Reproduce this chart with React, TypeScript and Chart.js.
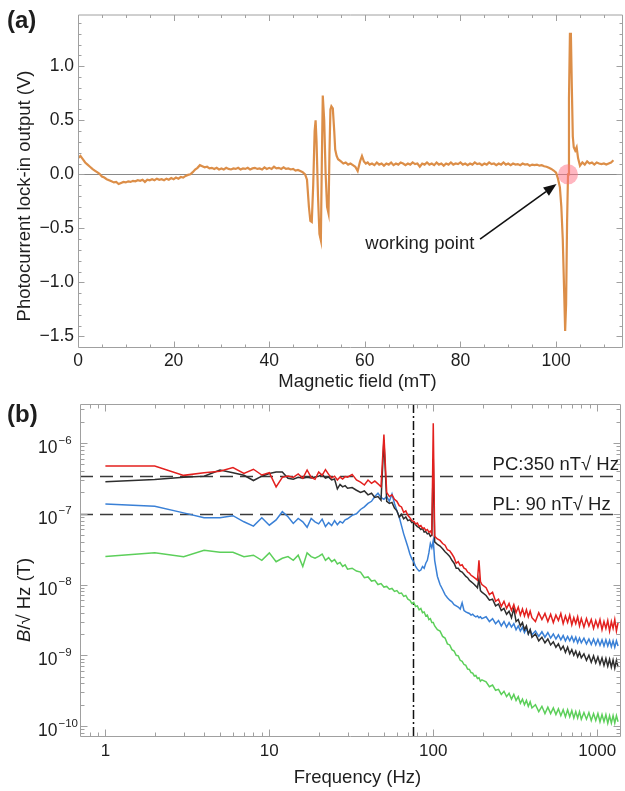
import React, { useEffect, useRef } from 'react';
import { Chart, registerables } from 'chart.js';

Chart.register(...registerables);

const FONT = '"Liberation Sans", Arial, Helvetica, sans-serif';
const TEXT = '#1e1e1e';
const FRAME = '#a0a0a0';
const TICK_FONT = 17.5;
const TITLE_FONT = 18.5;

// ---------------- panel (a): lock-in signal vs magnetic field ----------------
const fieldMT = [
  0, 0.5, 1, 1.5, 2, 2.5, 3, 3.5, 4, 4.5,
  5, 5.5, 6, 6.5, 7, 7.5, 8, 8.5, 9, 9.5,
  10, 10.5, 11, 11.5, 12, 12.5, 13, 13.5, 14, 14.5,
  15, 15.5, 16, 16.5, 17, 17.5, 18, 18.5, 19, 19.5,
  20, 20.5, 21, 21.5, 22, 22.5, 23, 23.5, 24, 24.5,
  25, 25.5, 26, 26.5, 27, 27.5, 28, 28.5, 29, 29.5,
  30, 30.5, 31, 31.5, 32, 32.5, 33, 33.5, 34, 34.5,
  35, 35.5, 36, 36.5, 37, 37.5, 38, 38.5, 39, 39.5,
  40, 40.5, 41, 41.5, 42, 42.5, 43, 43.5, 44, 44.5,
  45, 45.5, 46, 46.5, 47, 47.5,
  47.9, 48.3, 48.6, 48.9, 49.2, 49.5, 49.7, 49.9, 50.2, 50.5,
  50.8, 51.0, 51.2, 51.5, 51.8, 52.1, 52.4, 52.6, 52.8, 53.0,
  53.3, 53.6, 53.8, 54.1, 54.4,
  55, 55.5, 56, 56.5, 57, 57.5, 58, 58.5, 59, 59.4, 59.8,
  60.2, 60.6, 61, 61.5, 62, 62.5, 63, 63.5, 64, 64.5,
  65, 65.5, 66, 66.5, 67, 67.5, 68, 68.5, 69, 69.5,
  70, 70.5, 71, 71.5, 72, 72.5, 73, 73.5, 74, 74.5,
  75, 75.5, 76, 76.5, 77, 77.5, 78, 78.5, 79, 79.5,
  80, 80.5, 81, 81.5, 82, 82.5, 83, 83.5, 84, 84.5,
  85, 85.5, 86, 86.5, 87, 87.5, 88, 88.5, 89, 89.5,
  90, 90.5, 91, 91.5, 92, 92.5, 93, 93.5, 94, 94.5,
  95, 95.5, 96, 96.5, 97, 97.5, 98, 98.5, 99, 99.5,
  100, 100.4, 100.8, 101.1, 101.4, 101.7, 101.9, 102.1, 102.3, 102.5,
  102.7, 102.9, 103.1, 103.3, 103.5, 103.7, 104.0, 104.3, 104.6, 105.0,
  105.5, 106, 106.5, 107, 107.5, 108, 108.5, 109, 109.5, 110,
  110.5, 111, 111.5, 112,
];
const lockinV = [
  0.15, 0.17, 0.14, 0.11, 0.09, 0.07, 0.05, 0.035, 0.02, 0.005,
  -0.02, -0.03, -0.045, -0.055, -0.065, -0.075, -0.07, -0.09, -0.08, -0.07,
  -0.075, -0.065, -0.07, -0.06, -0.065, -0.055, -0.06, -0.05, -0.07, -0.05,
  -0.055, -0.045, -0.055, -0.04, -0.05, -0.045, -0.055, -0.04, -0.05, -0.035,
  -0.045, -0.03, -0.04, -0.025, -0.03, -0.015, -0.005, 0.0, 0.02, 0.045,
  0.06, 0.085, 0.075, 0.065, 0.07, 0.055, 0.06, 0.05, 0.06, 0.045,
  0.055, 0.045, 0.06, 0.05, 0.045, 0.055, 0.05, 0.06, 0.045, 0.055,
  0.05, 0.06, 0.045, 0.055, 0.06, 0.05, 0.055, 0.045, 0.065, 0.05,
  0.06, 0.05, 0.07, 0.055, 0.06, 0.05, 0.065, 0.05, 0.055, 0.045,
  0.05, 0.035, 0.04, 0.03, 0.02, 0.0,
  -0.05, -0.3, -0.43, -0.44, -0.1, 0.4, 0.5, 0.3, -0.2, -0.55,
  -0.61, 0.1, 0.73, 0.5, 0.0, -0.3, -0.36, 0.2, 0.6, 0.63,
  0.61, 0.4, 0.23, 0.17, 0.14,
  0.12, 0.1, 0.11, 0.09, 0.1, 0.085, 0.07, 0.03, 0.12, 0.17, 0.12,
  0.1, 0.11, 0.09, 0.1, 0.085, 0.11, 0.09, 0.1, 0.08, 0.1,
  0.09, 0.11, 0.085, 0.1, 0.09, 0.11, 0.1, 0.085, 0.1, 0.09,
  0.11, 0.095, 0.1, 0.07, 0.1, 0.09, 0.11, 0.09, 0.1, 0.085,
  0.11, 0.09, 0.1, 0.08, 0.1, 0.09, 0.11, 0.09, 0.1, 0.095,
  0.11, 0.09, 0.1, 0.085, 0.1, 0.09, 0.11, 0.095, 0.1, 0.085,
  0.1, 0.09, 0.11, 0.095, 0.1, 0.085, 0.1, 0.09, 0.11, 0.09,
  0.1, 0.085, 0.1, 0.09, 0.095, 0.085, 0.1, 0.09, 0.095, 0.08,
  0.09, 0.085, 0.09, 0.08, 0.085, 0.075, 0.07, 0.06, 0.05, 0.035,
  0.015, -0.04, -0.12, -0.3, -0.6, -1.1, -1.45, -1.2, -0.45, 0.0,
  0.7, 1.3, 1.3, 0.8, 0.35, 0.25, 0.22, 0.25, 0.15, 0.08,
  0.11, 0.09, 0.12, 0.1, 0.11, 0.09, 0.11, 0.1, 0.095, 0.1,
  0.09, 0.1, 0.11, 0.13,
];
const A_X_RANGE = [0, 114];
const A_Y_RANGE = [-1.607, 1.479];
const A_X_MAJOR = [0, 20, 40, 60, 80, 100];
const A_X_MINOR = [5, 10, 15, 25, 30, 35, 45, 50, 55, 65, 70, 75, 85, 90, 95, 105, 110];
const A_Y_MAJOR = [-1.5, -1, -0.5, 0, 0.5, 1];
const A_Y_MINOR = [-1.4, -1.3, -1.2, -1.1, -0.9, -0.8, -0.7, -0.6, -0.4, -0.3, -0.2, -0.1,
  0.1, 0.2, 0.3, 0.4, 0.6, 0.7, 0.8, 0.9, 1.1, 1.2, 1.3, 1.4];
const WORKING_POINT = { mT: 102.5, V: 0 };
const ARROW_FROM = { mT: 84.1, V: -0.6 };
const ARROW_TO = { mT: 100.1, V: -0.09 };
const LABEL_AT = { mT: 71.5, V: -0.648 };

// ---------------- panel (b): noise spectra ----------------
const freqHz = [
  1, 2, 3, 4, 5, 6, 7, 8, 9, 10, 11, 12, 13, 14, 15, 16, 17, 18, 19, 20,
  21, 22, 23, 24, 25, 26, 27, 28, 29, 30,
  32, 34, 36, 38, 40, 42, 44, 46, 48, 50, 52, 54, 56, 58, 60,
  62, 64, 66, 68, 70, 72, 74, 76, 78, 80, 82, 84, 86, 88, 90, 92, 94, 96, 98, 100,
  102, 106, 110, 114, 118, 122, 126, 130, 134, 138, 142, 146, 150, 154, 158,
  162, 166, 170, 174, 178, 182, 186, 190, 194, 198,
  210, 220, 230, 240, 250, 260, 270, 280, 290, 300, 310, 320, 330, 340, 350, 360, 370, 380, 390, 400,
  420, 440, 460, 480, 500, 520, 540, 560, 580, 600, 620, 640, 660, 680, 700, 720, 740, 760, 780, 800,
  830, 860, 890, 920, 950, 980, 1010, 1040, 1070, 1100, 1130, 1160, 1190, 1220, 1250, 1280, 1310, 1340,
];
// amplitude spectral densities in nT/sqrt(Hz)
const redNoise_nT = [
  473, 473, 349, 380, 398, 450, 372, 426, 353, 380, 240, 327, 342, 327, 365, 317, 416, 327, 307, 390,
  350, 420, 360, 320, 340, 300, 330, 310, 335, 330,
  360, 300, 280, 255, 300, 270, 290, 265, 240, 1320, 200, 175, 185, 160, 150,
  130, 125, 105, 110, 95, 88, 80, 78, 72, 74, 66, 68, 62, 63, 58, 60, 55, 57, 52, 1900,
  48, 44, 42, 38, 36, 31, 30, 27, 24, 20, 21, 18.5, 19, 17, 16.5,
  15, 14.5, 13.5, 13, 12.5, 12, 11.5, 22, 11, 10,
  9.0, 7.2, 7.8, 5.8, 6.2, 4.9, 5.8, 4.6, 5.4, 4.3, 5.2, 4.0, 4.8, 3.7, 4.5, 3.6, 4.4, 3.5, 4.2, 3.4,
  3.0, 4.0, 3.2, 3.9, 3.0, 3.8, 2.9, 3.7, 3.1, 3.9, 2.8, 3.6, 2.9, 3.7, 2.7, 3.4, 2.8, 3.5, 2.6, 3.3,
  2.5, 3.3, 2.6, 3.2, 2.4, 3.1, 2.5, 3.2, 2.3, 3.0, 2.4, 3.1, 2.2, 3.0, 2.4, 3.2, 2.2, 2.9,
];
const blackNoise_nT = [
  284, 305, 327, 340, 416, 380, 350, 295, 340, 370, 390, 390, 317, 307, 327, 317, 327, 320, 330, 340,
  360, 320, 330, 300, 310, 225, 260, 240, 250, 230,
  235, 215, 200, 210, 185, 195, 170, 175, 155, 1100, 150, 140, 145, 120, 110,
  90, 98, 85, 90, 80, 82, 75, 77, 70, 66, 64, 60, 62, 55, 56, 52, 53, 48, 50, 600,
  40, 37, 35, 32, 29, 27, 25, 22, 20, 17, 17, 15.5, 15, 14, 13,
  12.5, 11.5, 11, 10.5, 10, 9.5, 9, 12, 8.2, 7.8,
  7.0, 6.0, 6.2, 5.0, 5.3, 4.3, 4.6, 3.8, 4.2, 3.4, 4.6, 3.0, 3.2, 2.6, 2.9, 2.3, 2.6, 2.0, 2.3, 1.8,
  2.0, 1.6, 1.8, 1.5, 1.7, 1.4, 1.55, 1.3, 1.45, 1.2, 1.35, 1.1, 1.3, 1.05, 1.2, 1.0, 1.15, 0.95, 1.1, 0.92,
  1.05, 0.85, 1.0, 0.8, 0.98, 0.78, 0.95, 0.75, 0.92, 0.72, 0.9, 0.7, 0.88, 0.68, 0.86, 0.66, 0.85, 0.68,
];
const blueNoise_nT = [
  137, 128, 103, 88, 88, 94, 77, 67, 88, 69, 82, 107, 91, 73, 86, 77, 64.5, 86, 77, 72,
  84, 66, 75, 68, 80, 70, 78, 74, 82, 85,
  95, 100, 115, 125, 140, 150, 175, 195, 170, 160, 175, 150, 190, 140, 110,
  90, 68, 52, 42, 34, 27, 23, 21, 18, 16.5, 15.5, 16, 18, 17, 20, 22, 28, 38, 33, 42,
  22, 13, 10, 8.5, 7.2, 6.5, 6.0, 5.7, 5.2, 5.0, 4.8, 4.5, 5.5, 4.3, 4.1,
  4.0, 3.9, 3.7, 3.8, 3.6, 3.5, 3.6, 3.4, 3.5, 3.3,
  3.5, 3.0, 3.3, 2.8, 3.1, 2.6, 3.0, 2.5, 2.9, 2.5, 2.8, 2.3, 2.6, 2.2, 2.5, 2.1, 2.4, 2.0, 2.3, 1.95,
  2.2, 1.85, 2.15, 1.8, 2.1, 1.75, 2.0, 1.7, 1.95, 1.65, 1.9, 1.6, 1.85, 1.6, 1.85, 1.55, 1.8, 1.5, 1.75, 1.5,
  1.75, 1.45, 1.7, 1.42, 1.7, 1.4, 1.68, 1.38, 1.65, 1.35, 1.65, 1.35, 1.62, 1.32, 1.6, 1.3, 1.6, 1.35,
];
const greenNoise_nT = [
  24.8, 28.2, 24.8, 30.6, 28.5, 28.5, 24.8, 26, 22, 28, 21, 23.5, 24.8, 22, 26, 18, 28, 24.8, 23.5, 25,
  27, 22, 24, 21, 22.5, 19.5, 20.5, 18, 19, 16.5,
  17, 15.5, 15, 12.5, 12.8, 11.2, 11.5, 10, 10.3, 9.2, 9.4, 8.6, 8.8, 8.0, 8.2,
  7.5, 7.6, 6.8, 7.0, 6.2, 6.0, 5.4, 5.6, 4.9, 5.0, 4.4, 4.6, 4.0, 4.1, 3.6, 3.7, 3.2, 3.3, 2.9, 2.9,
  2.6, 2.3, 2.2, 1.85, 1.75, 1.45, 1.4, 1.2, 1.15, 1.0, 0.98, 0.85, 0.82, 0.74, 0.72,
  0.64, 0.63, 0.57, 0.56, 0.51, 0.52, 0.47, 0.48, 0.43, 0.45,
  0.42, 0.36, 0.38, 0.32, 0.33, 0.28, 0.31, 0.26, 0.29, 0.24, 0.28, 0.23, 0.26, 0.21, 0.24, 0.2, 0.23, 0.19, 0.22, 0.18,
  0.2, 0.16, 0.19, 0.15, 0.185, 0.15, 0.18, 0.145, 0.175, 0.14, 0.17, 0.135, 0.17, 0.135, 0.165, 0.13, 0.16, 0.13, 0.16, 0.125,
  0.155, 0.125, 0.155, 0.12, 0.15, 0.12, 0.15, 0.115, 0.145, 0.115, 0.145, 0.11, 0.14, 0.11, 0.14, 0.11, 0.14, 0.115,
];
const B_X_RANGE = [0.715, 1397];
const B_Y_RANGE = [7.0e-11, 3.56e-6];
const B_X_DECADES = [-1, 0, 1, 2, 3];
const B_Y_DECADES = [-11, -10, -9, -8, -7, -6];
const PC_LEVEL_T = 3.4e-7;
const PL_LEVEL_T = 1.0e-7;
const PC_LABEL = 'PC:350 nT\u221A Hz';
const PL_LABEL = 'PL: 90 nT\u221A Hz';
const LEVEL_LABEL_HZ = 230;
const CUTOFF_HZ = 75;

const SERIES_B = [
  { name: 'red', values: redNoise_nT, color: '#e3201e' },
  { name: 'black', values: blackNoise_nT, color: '#2e2e2e' },
  { name: 'blue', values: blueNoise_nT, color: '#3a80d6' },
  { name: 'green', values: greenNoise_nT, color: '#5ccf5a' },
];

// ---------------- helpers ----------------
function inwardTicks(chart: any, xMaj: number[], xMin: number[], yMaj: number[], yMin: number[], lMaj: number, lMin: number) {
  const { ctx, chartArea: ca, scales } = chart;
  const xs = scales.x, ys = scales.y;
  const L = ca.left + 0.5, R = ca.right - 0.5, T = ca.top + 0.5, B = ca.bottom - 0.5;
  ctx.save();
  ctx.strokeStyle = FRAME;
  ctx.lineWidth = 1;
  ctx.beginPath();
  ctx.rect(L, T, R - L, B - T);
  const doX = (vals: number[], len: number) => {
    for (const v of vals) {
      const p = xs.getPixelForValue(v);
      if (p < ca.left + 1 || p > ca.right - 1) continue;
      const px = Math.round(p) + 0.5;
      ctx.moveTo(px, B); ctx.lineTo(px, B - len);
      ctx.moveTo(px, T); ctx.lineTo(px, T + len);
    }
  };
  const doY = (vals: number[], len: number) => {
    for (const v of vals) {
      const p = ys.getPixelForValue(v);
      if (p < ca.top + 1 || p > ca.bottom - 1) continue;
      const py = Math.round(p) + 0.5;
      ctx.moveTo(L, py); ctx.lineTo(L + len, py);
      ctx.moveTo(R, py); ctx.lineTo(R - len, py);
    }
  };
  doX(xMaj, lMaj); doX(xMin, lMin); doY(yMaj, lMaj); doY(yMin, lMin);
  ctx.stroke();
  ctx.restore();
}

function logMinor(decades: number[]) {
  const out: number[] = [];
  for (const d of decades) for (let m = 2; m <= 9; m++) out.push(m * Math.pow(10, d));
  return out;
}
function logMajor(decades: number[]) {
  return decades.map((d) => Math.pow(10, d));
}

const pluginA = {
  id: 'decorA',
  beforeDatasetsDraw(chart: any) {
    const { ctx, chartArea: ca, scales } = chart;
    const y0 = Math.round(scales.y.getPixelForValue(0)) + 0.5;
    ctx.save();
    ctx.strokeStyle = '#8a8a8a';
    ctx.lineWidth = 1;
    ctx.beginPath();
    ctx.moveTo(ca.left, y0);
    ctx.lineTo(ca.right, y0);
    ctx.stroke();
    ctx.restore();
  },
  afterDatasetsDraw(chart: any) {
    const { ctx, scales } = chart;
    const xs = scales.x, ys = scales.y;
    ctx.save();
    ctx.fillStyle = 'rgba(255,110,130,0.5)';
    ctx.beginPath();
    ctx.arc(xs.getPixelForValue(WORKING_POINT.mT), ys.getPixelForValue(WORKING_POINT.V), 10, 0, Math.PI * 2);
    ctx.fill();
    const tx = xs.getPixelForValue(ARROW_FROM.mT), ty = ys.getPixelForValue(ARROW_FROM.V);
    const hx = xs.getPixelForValue(ARROW_TO.mT), hy = ys.getPixelForValue(ARROW_TO.V);
    const ang = Math.atan2(hy - ty, hx - tx);
    const hl = 13, hw = 5;
    const bx = hx - hl * Math.cos(ang), by = hy - hl * Math.sin(ang);
    ctx.strokeStyle = '#111';
    ctx.fillStyle = '#111';
    ctx.lineWidth = 1.6;
    ctx.beginPath();
    ctx.moveTo(tx, ty);
    ctx.lineTo(bx, by);
    ctx.stroke();
    ctx.beginPath();
    ctx.moveTo(hx, hy);
    ctx.lineTo(bx + hw * Math.sin(ang), by - hw * Math.cos(ang));
    ctx.lineTo(bx - hw * Math.sin(ang), by + hw * Math.cos(ang));
    ctx.closePath();
    ctx.fill();
    ctx.fillStyle = TEXT;
    ctx.font = `${TITLE_FONT}px ${FONT}`;
    ctx.textAlign = 'center';
    ctx.textBaseline = 'middle';
    ctx.fillText('working point', xs.getPixelForValue(LABEL_AT.mT), ys.getPixelForValue(LABEL_AT.V));
    ctx.restore();
    inwardTicks(chart, A_X_MAJOR, A_X_MINOR, A_Y_MAJOR, A_Y_MINOR, 6, 3);
  },
  afterDraw(chart: any) {
    const { ctx, chartArea: ca } = chart;
    ctx.save();
    ctx.fillStyle = TEXT;
    ctx.font = `bold 24px ${FONT}`;
    ctx.textAlign = 'left';
    ctx.textBaseline = 'middle';
    ctx.fillText('(a)', 7, 21);
    ctx.font = `${TITLE_FONT}px ${FONT}`;
    ctx.textAlign = 'center';
    ctx.fillText('Magnetic field (mT)', (ca.left + ca.right) / 2 + 7, 382);
    ctx.translate(25, 196);
    ctx.rotate(-Math.PI / 2);
    ctx.fillText('Photocurrent lock-in output (V)', 0, 0);
    ctx.restore();
  },
};

const pluginB = {
  id: 'decorB',
  beforeDatasetsDraw(chart: any) {
    const { ctx, chartArea: ca, scales } = chart;
    const xs = scales.x, ys = scales.y;
    ctx.save();
    ctx.strokeStyle = '#3a3a3a';
    ctx.lineWidth = 1.5;
    ctx.setLineDash([13, 7]);
    for (const lvl of [PC_LEVEL_T, PL_LEVEL_T]) {
      const py = Math.round(ys.getPixelForValue(lvl)) + 0.5;
      ctx.beginPath();
      ctx.moveTo(ca.left, py);
      ctx.lineTo(ca.right, py);
      ctx.stroke();
    }
    ctx.strokeStyle = '#111';
    ctx.setLineDash([9, 3, 2, 3]);
    const px = Math.round(xs.getPixelForValue(CUTOFF_HZ)) + 0.5;
    ctx.beginPath();
    ctx.moveTo(px, ca.top);
    ctx.lineTo(px, ca.bottom);
    ctx.stroke();
    ctx.restore();
  },
  afterDatasetsDraw(chart: any) {
    const { ctx, scales } = chart;
    const xs = scales.x, ys = scales.y;
    ctx.save();
    ctx.fillStyle = TEXT;
    ctx.font = `${TITLE_FONT}px ${FONT}`;
    ctx.textAlign = 'left';
    ctx.textBaseline = 'middle';
    const lx = xs.getPixelForValue(LEVEL_LABEL_HZ);
    ctx.fillText(PC_LABEL, lx, ys.getPixelForValue(PC_LEVEL_T) - 11);
    ctx.fillText(PL_LABEL, lx, ys.getPixelForValue(PL_LEVEL_T) - 9);
    ctx.restore();
    inwardTicks(chart, logMajor(B_X_DECADES), logMinor(B_X_DECADES), logMajor(B_Y_DECADES), logMinor(B_Y_DECADES), 7, 4);
  },
  afterDraw(chart: any) {
    const { ctx, chartArea: ca, scales } = chart;
    const ys = scales.y;
    ctx.save();
    ctx.fillStyle = TEXT;
    ctx.textAlign = 'left';
    ctx.textBaseline = 'alphabetic';
    for (const d of B_Y_DECADES) {
      const v = Math.pow(10, d);
      const p = ys.getPixelForValue(v);
      if (p < ca.top - 1 || p > ca.bottom + 1) continue;
      ctx.font = `${TICK_FONT}px ${FONT}`;
      const x0 = 38;
      ctx.fillText('10', x0, p + 10);
      const w = ctx.measureText('10').width;
      ctx.font = `11.5px ${FONT}`;
      ctx.fillText('\u2212' + String(-d), x0 + w + 1, p + 0.5);
    }
    ctx.font = `bold 24px ${FONT}`;
    ctx.textBaseline = 'middle';
    ctx.fillText('(b)', 7, 23);
    ctx.font = `${TITLE_FONT}px ${FONT}`;
    ctx.textAlign = 'center';
    ctx.fillText('Frequency (Hz)', (ca.left + ca.right) / 2 + 7, 386);
    ctx.translate(25, 208);
    ctx.rotate(-Math.PI / 2);
    const partA = 'B';
    const partB = '/\u221A Hz (T)';
    ctx.font = `italic ${TITLE_FONT}px ${FONT}`;
    const wa = ctx.measureText(partA).width;
    ctx.font = `${TITLE_FONT}px ${FONT}`;
    const wb = ctx.measureText(partB).width;
    const start = -(wa + wb) / 2;
    ctx.textAlign = 'left';
    ctx.font = `italic ${TITLE_FONT}px ${FONT}`;
    ctx.fillText(partA, start, 0);
    ctx.font = `${TITLE_FONT}px ${FONT}`;
    ctx.fillText(partB, start + wa, 0);
    ctx.restore();
  },
};

function fmtA(v: number) {
  if (Math.abs(v * 2 - Math.round(v * 2)) > 1e-6) return '';
  return (v < 0 ? '\u2212' : '') + Math.abs(v).toFixed(1);
}

export default function App() {
  const refA = useRef<HTMLCanvasElement>(null);
  const refB = useRef<HTMLCanvasElement>(null);

  useEffect(() => {
    const tickFont = { family: FONT, size: TICK_FONT };
    const chartA = new Chart(refA.current as HTMLCanvasElement, {
      type: 'line',
      data: {
        datasets: [
          {
            data: fieldMT.map((x, i) => ({ x, y: lockinV[i] })),
            borderColor: '#dc8e48',
            borderWidth: 2.2,
            pointRadius: 0,
            tension: 0,
            fill: false,
          },
        ],
      },
      options: {
        responsive: false,
        animation: false,
        devicePixelRatio: 1,
        layout: { padding: { top: 10, right: 2, left: 0, bottom: 0 } },
        plugins: { legend: { display: false }, tooltip: { enabled: false } },
        scales: {
          x: {
            type: 'linear',
            min: A_X_RANGE[0],
            max: A_X_RANGE[1],
            grid: { display: false, drawTicks: false },
            border: { display: false },
            ticks: {
              stepSize: 20,
              includeBounds: false,
              padding: 3,
              color: TEXT,
              font: tickFont,
              maxRotation: 0,
              autoSkip: false,
              callback: (v: any) => String(v),
            },
            afterFit: (s: any) => { s.height = 44; },
          },
          y: {
            type: 'linear',
            min: A_Y_RANGE[0],
            max: A_Y_RANGE[1],
            grid: { display: false, drawTicks: false },
            border: { display: false },
            ticks: {
              stepSize: 0.5,
              includeBounds: false,
              padding: 4,
              color: TEXT,
              font: tickFont,
              autoSkip: false,
              callback: (v: any) => fmtA(Number(v)),
            },
            afterFit: (s: any) => { s.width = 78; },
          },
        },
      } as any,
      plugins: [pluginA],
    } as any);

    const chartB = new Chart(refB.current as HTMLCanvasElement, {
      type: 'line',
      data: {
        datasets: SERIES_B.map((s) => ({
          label: s.name,
          data: freqHz.map((f, i) => ({ x: f, y: s.values[i] * 1e-9 })),
          borderColor: s.color,
          borderWidth: 1.5,
          pointRadius: 0,
          tension: 0,
          fill: false,
        })),
      },
      options: {
        responsive: false,
        animation: false,
        devicePixelRatio: 1,
        layout: { padding: { top: 12, right: 2, left: 0, bottom: 0 } },
        plugins: { legend: { display: false }, tooltip: { enabled: false } },
        scales: {
          x: {
            type: 'logarithmic',
            min: B_X_RANGE[0],
            max: B_X_RANGE[1],
            grid: { display: false, drawTicks: false },
            border: { display: false },
            ticks: {
              padding: 4,
              color: TEXT,
              font: { family: FONT, size: 17 },
              maxRotation: 0,
              autoSkip: false,
              callback: (v: any) => {
                const l = Math.log10(Number(v));
                return Math.abs(l - Math.round(l)) < 1e-9 && l >= 0 ? String(Math.round(Number(v))) : '';
              },
            },
            afterFit: (s: any) => { s.height = 54; },
          },
          y: {
            type: 'logarithmic',
            min: B_Y_RANGE[0],
            max: B_Y_RANGE[1],
            grid: { display: false, drawTicks: false },
            border: { display: false },
            ticks: { display: false },
            afterFit: (s: any) => { s.width = 80; },
          },
        },
      } as any,
      plugins: [pluginB],
    } as any);

    return () => {
      chartA.destroy();
      chartB.destroy();
    };
  }, []);

  return (
    <div style={{ position: 'absolute', left: 0, top: 0, width: 625, height: 791, background: '#fff' }}>
      <canvas ref={refA} width={625} height={392} style={{ position: 'absolute', left: 0, top: 0 }} />
      <canvas ref={refB} width={625} height={399} style={{ position: 'absolute', left: 0, top: 392 }} />
    </div>
  );
}
